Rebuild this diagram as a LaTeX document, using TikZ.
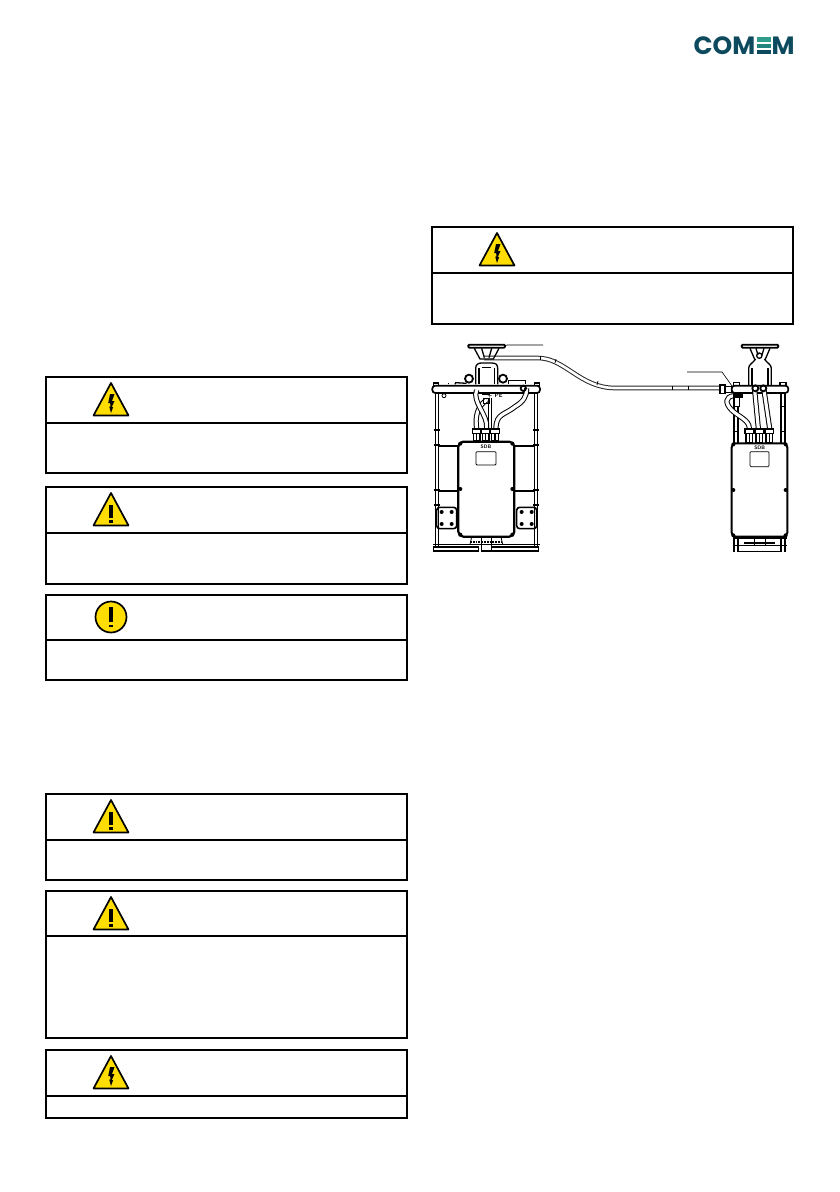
\documentclass[tikz,border=0pt]{standalone}
\usepackage{fontspec}
\newfontfamily\logofont{Poppins}[Scale=1]
\definecolor{signyellow}{HTML}{FFDD00}
\definecolor{logoblue}{HTML}{0E4A5E}
\definecolor{logogreen}{HTML}{2F9C8C}
\tikzset{
  frameline/.style={line width=2pt},
  signline/.style={line width=1.7pt, line join=round},
  cableline/.style={line width=1pt, draw=black!85, double=white, double distance=2.6pt},
  hoseline/.style={line width=1pt, double=white, double distance=3.2pt},
  thinline/.style={line width=0.8pt},
  midline/.style={line width=1.3pt},
  glandline/.style={line width=1.6pt},
  boxline/.style={line width=1.7pt, rounded corners=3pt},
  leaderline/.style={line width=0.6pt}
}
% box with its title rule: left, top, rule, bottom
\newcommand{\warnframe}[4]{\draw[frameline] (#1,#2) rectangle (#1+361,#4); \draw[frameline] (#1,#3) -- (#1+361,#3);}
\newcommand{\voltsign}[2]{
  \draw[signline, fill=signyellow] (#1+65,#2+6) -- (#1+82.5,#2+38.5) -- (#1+47.5,#2+38.5) -- cycle;
  \fill (#1+64,#2+17) -- (#1+68.5,#2+17) -- (#1+66,#2+24) -- (#1+68.5,#2+24) -- (#1+65.8,#2+30) -- (#1+67.2,#2+30) -- (#1+65,#2+36) -- (#1+63.2,#2+29.5) -- (#1+64.4,#2+29.5) -- (#1+64.2,#2+26) -- (#1+62.2,#2+26) -- cycle;
}
\newcommand{\warnsign}[2]{
  \draw[signline, fill=signyellow] (#1+65,#2+6) -- (#1+82.5,#2+38.5) -- (#1+47.5,#2+38.5) -- cycle;
  \fill (#1+63,#2+18) rectangle (#1+67,#2+31);
  \fill (#1+63,#2+33) rectangle (#1+67,#2+36);
}
\newcommand{\notesign}[2]{
  \draw[signline, fill=signyellow] (#1+65,#2+22) circle (15.5);
  \fill (#1+63.4,#2+12) rectangle (#1+66.6,#2+27);
  \fill (#1+63,#2+30) rectangle (#1+67,#2+32);
}
\begin{document}
\begin{tikzpicture}[x=1pt, y=-1pt]
\useasboundingbox (0,0) rectangle (840,1192);

% logo
\node[anchor=base east, inner sep=0pt, text=logoblue] (logocom) at (755.5,54) {\fontsize{25}{25}\logofont\bfseries COM};
\node[anchor=base west, inner sep=0pt, text=logoblue] (logom) at (771.5,54) {\fontsize{25}{25}\logofont\bfseries M};
\fill[logogreen] (757,37) rectangle (771,41.5);
\fill[logogreen!70!logoblue] (757,43.5) rectangle (771,47.5);
\fill[logoblue] (757,49.5) rectangle (771,54);

% boxes
\warnframe{46}{377}{423}{473}
\warnframe{46}{487}{533}{584}
\warnframe{46}{595}{640}{680}
\warnframe{46}{794}{840}{880}
\warnframe{46}{891}{936}{1038}
\warnframe{46}{1050}{1096}{1118}
\warnframe{432}{227}{273}{324}

\voltsign{46}{377}
\warnsign{46}{487}
\notesign{46}{595}
\warnsign{46}{794}
\warnsign{46}{891}
\voltsign{46}{1050}
\voltsign{432}{227}

% long cable
\coordinate (cablestart) at (484,358);
\coordinate (cableend) at (722,388);
\draw[cableline] (cablestart) -- (538,358) .. controls (565,358) and (580,388) .. (615,388) -- (cableend);
\draw[thinline] (540,356) -- (540,360);
\draw[thinline] (556,359) -- (555,363);
\draw[thinline] (598,381) -- (597,385);
\draw[thinline] (672,386) -- (672,390);
\draw[thinline] (688,386) -- (688,390);

% left unit
\begin{scope}[shift={(425,335)}, x=0.3333pt, y=-0.3333pt]
\draw[line width=1.8pt, fill=white, rounded corners=1pt] (130,29) rectangle (240,38); %top plate
\draw[midline] (148,40) -- (165,72) -- (205,72) -- (222,40);
\draw[midline] (170,40) -- (178,68);
\draw[midline] (200,40) -- (192,68);
\draw[midline] (152,148) -- (152,100) .. controls (152,88) and (160,84) .. (170,84) -- (200,84) .. controls (212,84) and (218,88) .. (218,100) -- (218,148);
\draw[midline] (162,148) -- (162,98);
\draw[midline] (208,148) -- (208,98);
\draw[thinline] (172,98) -- (198,98);
\draw[line width=1.8pt] (132,131) circle (12);
\draw[line width=1.8pt] (234,131) circle (12);
\draw[midline] (250,148) -- (250,136) -- (302,136) -- (302,148);
\draw[midline] (70,148) -- (70,145);
\draw[midline] (90,148) -- (92,143) -- (125,145);
\draw[boxline, fill=white] (22,152) rectangle (345,174); %beam
\draw[midline] (25,144) rectangle (40,152);
\draw[midline] (328,144) rectangle (343,152);
\draw[thinline] (57,182) circle (6);
\foreach \xpost in {31,40,328,338} {
  \draw[midline] (\xpost,174) -- (\xpost,640);
}
\foreach \ybar in {285,330,465,510} {
  \draw[midline] (26,\ybar) -- (44,\ybar);
  \draw[midline] (324,\ybar) -- (342,\ybar);
}
\draw[line width=1.6pt] (38,333) -- (100,333);
\draw[line width=1.6pt] (268,333) -- (330,333);
\draw[line width=1.6pt] (38,468) -- (100,468);
\draw[line width=1.6pt] (268,468) -- (330,468);
\draw[line width=1.6pt] (24,628) -- (345,628);
\draw[midline] (26,636) rectangle (160,648);
\draw[midline] (200,636) rectangle (340,648);
\draw[midline] (170,628) rectangle (200,648);
% hoses
\draw[hoseline] (155,280) .. controls (150,250) and (155,215) .. (185,195);
\draw[hoseline] (155,165) .. controls (140,200) and (190,240) .. (185,280);
\draw[hoseline] (213,280) .. controls (213,235) and (240,240) .. (270,215) .. controls (295,200) and (305,185) .. (305,160);
\draw[thinline] (190,190) -- (190,280);
\draw[thinline] (198,190) -- (198,280);
\draw[line width=1.8pt] (295,160) circle (8);
\fill (172,174) rectangle (195,180);
\draw[midline] (175,190) rectangle (192,205);
\node[inner sep=0pt, font=\fontsize{6}{6}\selectfont\bfseries\sffamily] (tagleft) at (210,183) {+ PE};
\foreach \xgland in {155,182,210} {
  \draw[glandline, fill=white] (\xgland-13,282) rectangle (\xgland+13,296);
  \draw[glandline, fill=white] (\xgland-10,296) rectangle (\xgland+10,318);
  \draw[midline] (\xgland,296) -- (\xgland,318);
}
\draw[line width=2.2pt, fill=white, rounded corners=5pt] (100,320) rectangle (268,605); %sdb box
\node[inner sep=0pt, font=\fontsize{5}{5}\selectfont\bfseries\sffamily] (sdbleft) at (183,335) {SDB};
\draw[thinline, rounded corners=1pt] (153,350) rectangle (213,390);
\foreach \xs/\ys in {106/326,262/326,106/462,262/462,106/599,262/599} {
  \fill (\xs,\ys) circle (6);
}
\foreach \xp in {35,275} {
  \draw[line width=1.6pt, rounded corners=3pt] (\xp,517) rectangle (\xp+60,581);
  \foreach \xd/\yd in {15/14,45/14,15/50,45/50} {
    \fill (\xp+\xd,517+\yd) circle (6);
  }
}
\draw[midline] (135,606) -- (230,606);
\draw[thinline] (140,606) -- (135,628);
\draw[thinline] (170,606) -- (170,628);
\draw[thinline] (200,606) -- (200,628);
\draw[thinline] (228,606) -- (233,628);
\draw[line width=1.8pt, densely dotted] (135,620) -- (230,620);
\end{scope}

% right unit
\begin{scope}[shift={(610,335)}, x=0.3333pt, y=-0.3333pt]
\draw[line width=1.8pt, fill=white, rounded corners=1pt] (395,29) rectangle (505,38); %top plate
\draw[midline] (420,40) -- (435,75) (465,75) -- (480,40);
\draw[midline] (438,40) -- (444,60);
\draw[midline] (462,40) -- (456,60);
\draw[midline] (416,150) -- (416,100) .. controls (416,88) and (428,85) .. (437,72) (463,72) .. controls (472,85) and (484,88) .. (484,100) -- (484,150);
\draw[line width=1.6pt] (426,150) -- (426,100);
\draw[line width=1.6pt] (474,150) -- (474,100);
\draw[midline] (448,62) circle (8);
\draw[midline, fill=white] (330,150) rectangle (345,176); %gland on beam
\draw[midline, fill=white] (345,154) rectangle (365,172);
\draw[boxline, fill=white] (365,152) rectangle (535,174); %beam
\draw[midline] (370,142) rectangle (388,152);
\draw[midline] (510,142) rectangle (528,152);
\fill (385,149) rectangle (415,154);
\foreach \xpost in {372,384,513,525} {
  \draw[midline] (\xpost,174) -- (\xpost,325);
  \draw[midline] (\xpost,605) -- (\xpost,650);
}
\foreach \ybar in {215,290} {
  \draw[thinline] (368,\ybar) -- (388,\ybar);
  \draw[thinline] (509,\ybar) -- (529,\ybar);
}
% hoses
\draw[hoseline] (434,165) -- (445,280);
\draw[hoseline] (462,165) -- (479,280);
\draw[line width=1.8pt] (436,160) circle (9);
\draw[line width=1.8pt] (460,160) circle (9);
\draw[hoseline] (418,280) .. controls (418,255) and (385,245) .. (365,225) .. controls (345,205) and (345,185) .. (372,182);
\draw[midline, fill=white] (372,180) rectangle (388,214);
\fill (368,176) rectangle (398,188);
\foreach \xgland in {418,448,478} {
  \draw[glandline, fill=white] (\xgland-13,282) rectangle (\xgland+13,296);
  \draw[glandline, fill=white] (\xgland-10,296) rectangle (\xgland+10,322);
  \draw[midline] (\xgland,296) -- (\xgland,322);
}
\draw[line width=2pt, fill=white, rounded corners=4pt] (365,325) rectangle (532,605); %sdb box
\node[inner sep=0pt, font=\fontsize{5}{5}\selectfont\bfseries\sffamily] (sdbright) at (449,339) {SDB};
\draw[thinline, rounded corners=1pt] (420,350) rectangle (477,395);
\foreach \xs in {370,527} {
  \foreach \yr in {328,465,601} {
    \fill (\xs,\yr) circle (6);
  }
}
\draw[line width=1.8pt] (368,608) -- (530,608);
\draw[midline] (368,632) -- (530,632);
\draw[line width=1.6pt] (385,650) -- (512,650);
\foreach \xfoot in {418,450,480} {
  \fill (\xfoot-16,622) rectangle (\xfoot+16,628);
}
\draw[thinline] (433,608) -- (433,632);
\draw[thinline] (465,608) -- (465,632);
\end{scope}

% leaders
\coordinate (leaderone) at (507,345);
\coordinate (leaderonex) at (543,345);
\draw[leaderline] (505,346) -- (leaderone) -- (leaderonex);
\coordinate (leadertwo) at (687,372);
\coordinate (leadertwox) at (722,372);
\coordinate (leadertwoy) at (732,386);
\draw[leaderline] (leadertwo) -- (leadertwox) -- (leadertwoy);
\end{tikzpicture}
\end{document}
